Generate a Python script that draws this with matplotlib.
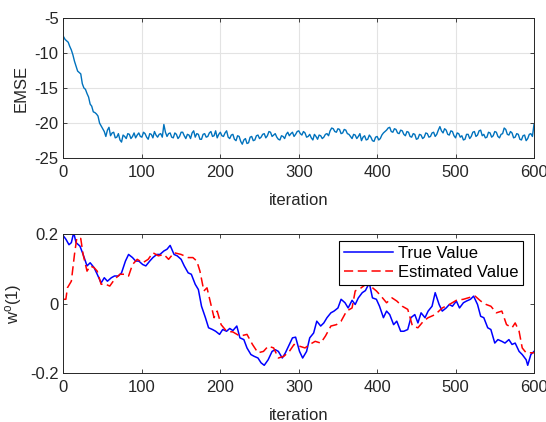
import matplotlib
matplotlib.use('Agg')
import matplotlib.pyplot as plt

plt.rcParams['font.family'] = ['Liberation Sans', 'DejaVu Sans']
plt.rcParams['mathtext.default'] = 'regular'
plt.rcParams['axes.unicode_minus'] = False

# EMSE learning curve (dB), sampled every 2 iterations
emse_iter = list(range(0, 601, 2))
emse_db = [-7.7, -8.1, -8.3, -8.5, -9.1, -9.6, -10.3, -11.2, -11.9, -12.6,
           -12.8, -13.0, -14.4, -15.0, -15.2, -15.8, -16.3, -17.3, -17.6, -18.4,
           -18.5, -18.7, -19.0, -20.0, -20.4, -20.8, -21.2, -21.9, -21.0, -20.6,
           -21.8, -21.4, -21.3, -22.1, -22.0, -21.5, -22.4, -22.7, -21.7, -21.9,
           -22.2, -21.5, -21.6, -22.2, -21.9, -21.4, -22.1, -21.7, -21.4, -21.9,
           -22.0, -21.3, -21.5, -22.0, -22.3, -21.5, -21.6, -22.1, -21.2, -21.7,
           -22.0, -21.6, -21.5, -22.0, -20.2, -21.3, -21.9, -21.5, -21.4, -22.0,
           -22.1, -21.4, -21.6, -22.2, -21.9, -21.3, -21.3, -21.8, -22.2, -21.6,
           -21.7, -22.2, -21.4, -21.1, -22.0, -21.5, -21.6, -22.3, -22.3, -21.6,
           -21.5, -22.0, -21.9, -21.4, -21.2, -21.9, -21.8, -21.1, -22.1, -21.6,
           -21.3, -21.8, -21.9, -21.4, -21.1, -22.0, -22.2, -21.7, -21.6, -22.3,
           -22.5, -21.8, -21.9, -22.6, -23.0, -22.4, -22.2, -22.9, -22.8, -22.0,
           -21.9, -22.5, -22.4, -21.8, -21.7, -22.2, -22.0, -21.6, -21.5, -22.1,
           -21.8, -21.2, -21.3, -21.9, -21.7, -21.5, -22.0, -22.3, -22.4, -21.8,
           -21.9, -22.2, -21.6, -21.3, -21.8, -21.5, -21.3, -21.9, -21.6, -21.2,
           -21.1, -21.5, -21.7, -21.2, -21.4, -22.0, -21.9, -21.6, -22.1, -22.4,
           -21.6, -21.9, -22.3, -21.7, -21.8, -22.2, -22.0, -21.6, -21.5, -21.8,
           -21.1, -20.7, -20.8, -21.2, -21.3, -20.8, -20.9, -21.5, -21.4, -20.9,
           -21.0, -21.5, -21.6, -21.9, -22.2, -21.6, -21.7, -22.2, -21.9, -21.5,
           -22.5, -22.0, -21.8, -22.4, -22.3, -21.7, -22.0, -22.5, -22.6, -22.0,
           -21.9, -22.4, -22.2, -21.7, -21.4, -21.2, -21.0, -20.7, -20.6, -21.2,
           -21.3, -20.8, -20.9, -21.4, -21.5, -21.0, -21.1, -21.6, -21.8, -21.2,
           -21.3, -21.9, -22.0, -21.5, -21.6, -22.3, -22.2, -21.6, -21.7, -22.2,
           -22.0, -21.4, -21.5, -22.0, -21.9, -21.4, -21.3, -21.9, -21.6, -21.0,
           -20.5, -21.1, -21.4, -20.8, -21.0, -21.6, -21.7, -21.1, -21.2, -21.8,
           -22.1, -21.4, -21.5, -22.0, -21.8, -22.4, -22.3, -21.6, -21.6, -22.2,
           -21.9, -21.3, -21.2, -21.9, -21.7, -21.1, -21.0, -21.8, -21.6, -22.1,
           -22.0, -21.3, -21.4, -22.0, -21.8, -21.2, -21.3, -21.9, -22.1, -21.6,
           -21.5, -20.7, -20.9, -21.6, -21.7, -21.2, -21.4, -22.1, -22.0, -21.5,
           -21.6, -22.3, -22.4, -21.8, -21.7, -22.5, -22.2, -21.6, -21.5, -21.9,
           -20.2]

# true weight w^o(1)
true_iter = [0, 3, 7, 10, 13, 16, 21, 25, 30, 34,
             39, 43, 48, 52, 56, 61, 65, 70, 74, 79,
             83, 88, 92, 96, 101, 105, 110, 114, 119, 123,
             128, 132, 136, 141, 145, 150, 154, 159, 163, 168,
             172, 176, 181, 185, 190, 194, 199, 203, 208, 212,
             216, 221, 225, 230, 234, 239, 243, 248, 252, 256,
             261, 266, 270, 274, 279, 283, 288, 292, 296, 301,
             305, 310, 314, 319, 323, 328, 332, 336, 341, 345,
             350, 354, 359, 363, 368, 372, 376, 381, 385, 390,
             394, 399, 403, 408, 412, 416, 421, 425, 430, 434,
             439, 443, 448, 452, 456, 461, 465, 470, 474, 479,
             483, 488, 492, 496, 501, 505, 510, 514, 519, 523,
             528, 532, 536, 541, 545, 550, 554, 559, 563, 568,
             572, 576, 581, 585, 590, 592, 596, 600]
true_val = [0.195, 0.186, 0.170, 0.176, 0.205, 0.176, 0.166, 0.142, 0.109, 0.118,
            0.104, 0.085, 0.060, 0.075, 0.065, 0.075, 0.080, 0.080, 0.089, 0.123,
            0.142, 0.133, 0.123, 0.123, 0.113, 0.109, 0.123, 0.133, 0.142, 0.142,
            0.152, 0.157, 0.168, 0.142, 0.138, 0.128, 0.109, 0.089, 0.085, 0.056,
            0.041, -0.007, -0.040, -0.069, -0.074, -0.079, -0.088, -0.074, -0.079, -0.071,
            -0.077, -0.064, -0.098, -0.103, -0.127, -0.146, -0.151, -0.156, -0.170, -0.177,
            -0.161, -0.137, -0.132, -0.137, -0.156, -0.141, -0.117, -0.098, -0.096, -0.137,
            -0.156, -0.137, -0.098, -0.084, -0.050, -0.064, -0.055, -0.040, -0.026, -0.021,
            -0.012, 0.013, 0.003, -0.012, 0.010, -0.002, 0.017, 0.032, 0.038, 0.060,
            0.017, 0.013, -0.007, -0.040, -0.021, -0.031, -0.060, -0.050, -0.079, -0.079,
            -0.074, -0.040, -0.031, -0.055, -0.026, -0.040, -0.021, -0.007, 0.032, -0.002,
            -0.021, -0.012, -0.002, -0.007, 0.008, -0.012, 0.003, 0.008, 0.013, 0.022,
            -0.002, -0.036, -0.040, -0.069, -0.074, -0.113, -0.103, -0.108, -0.113, -0.103,
            -0.117, -0.113, -0.137, -0.146, -0.161, -0.177, -0.146, -0.137]

# filter estimate of w^o(1)
est_iter = [0, 3, 5, 10, 14, 17, 22, 25, 30, 34,
            39, 43, 48, 52, 59, 65, 72, 79, 83, 88,
            94, 101, 108, 114, 121, 128, 134, 141, 150, 159,
            165, 170, 174, 179, 183, 188, 192, 196, 201, 208,
            216, 225, 234, 241, 248, 255, 261, 268, 274, 281,
            288, 294, 301, 308, 314, 321, 328, 334, 341, 348,
            354, 361, 368, 372, 379, 385, 392, 399, 405, 412,
            419, 425, 432, 439, 445, 452, 459, 465, 474, 483,
            492, 501, 510, 519, 525, 532, 539, 545, 552, 559,
            565, 572, 576, 581, 585, 590, 600]
est_val = [0.013, 0.013, 0.046, 0.065, 0.142, 0.190, 0.188, 0.142, 0.094, 0.109,
           0.104, 0.094, 0.056, 0.058, 0.051, 0.070, 0.085, 0.085, 0.080, 0.113,
           0.128, 0.118, 0.128, 0.147, 0.138, 0.142, 0.128, 0.147, 0.142, 0.133,
           0.133, 0.123, 0.094, 0.037, 0.046, -0.002, -0.040, -0.021, -0.060, -0.079,
           -0.081, -0.093, -0.088, -0.117, -0.141, -0.137, -0.122, -0.127, -0.156, -0.151,
           -0.137, -0.117, -0.122, -0.127, -0.117, -0.108, -0.113, -0.093, -0.064, -0.060,
           -0.050, -0.021, -0.012, 0.037, 0.045, 0.055, 0.050, 0.037, 0.022, 0.003,
           0.017, 0.008, -0.007, -0.016, -0.064, -0.069, -0.050, -0.040, -0.031, -0.012,
           -0.002, 0.010, 0.013, 0.019, 0.022, 0.008, -0.002, -0.007, -0.026, -0.021,
           -0.060, -0.069, -0.055, -0.079, -0.127, -0.141, -0.141]

axis_col = '#262626'
fs = 12

fig = plt.figure(figsize=(5.46, 4.22), dpi=100)
ax1 = fig.add_axes([0.1163, 0.625, 0.8617, 0.3332])
ax2 = fig.add_axes([0.1163, 0.1154, 0.8617, 0.3294])

for ax in (ax1, ax2):
    ax.tick_params(direction='in', length=3, width=0.6, top=True, right=True,
                   labelsize=fs, colors=axis_col, labelcolor=axis_col)
    ax.tick_params(axis='x', pad=5)
    for s in ax.spines.values():
        s.set_color(axis_col)
        s.set_linewidth(0.7)
    ax.set_xlim(0, 600)
    ax.set_xticks([0, 100, 200, 300, 400, 500, 600])
    ax.set_xlabel('iteration', fontsize=fs, color=axis_col, labelpad=9)

ax1.plot(emse_iter, emse_db, color='#0072BD', lw=1.0)
ax1.set_ylim(-25, -5)
ax1.set_yticks([-25, -20, -15, -10, -5])
ax1.grid(True, color='#e3e3e3', lw=0.8)
ax1.set_axisbelow(True)
ax1.set_ylabel('EMSE', fontsize=fs, color=axis_col, labelpad=4)

ax2.plot(true_iter, true_val, color='#0000ff', lw=1.1, label='True Value')
ax2.plot(est_iter, est_val, color='#ff0000', lw=1.1, ls='--', dashes=(6, 3),
         label='Estimated Value')
ax2.set_ylim(-0.2, 0.2)
ax2.set_yticks([-0.2, 0, 0.2])
ax2.set_yticklabels(['-0.2', '0', '0.2'])
ax2.set_ylabel('w$^{o}$(1)', fontsize=fs, color=axis_col, labelpad=4)

leg = ax2.legend(loc='upper right', bbox_to_anchor=(0.977, 0.952), fontsize=fs,
                 fancybox=False, framealpha=1, edgecolor='black',
                 handlelength=2.9, borderpad=0.3, labelspacing=0.25,
                 handletextpad=0.3, borderaxespad=0)
leg.get_frame().set_linewidth(0.8)

fig.savefig('out.png', dpi=100)
